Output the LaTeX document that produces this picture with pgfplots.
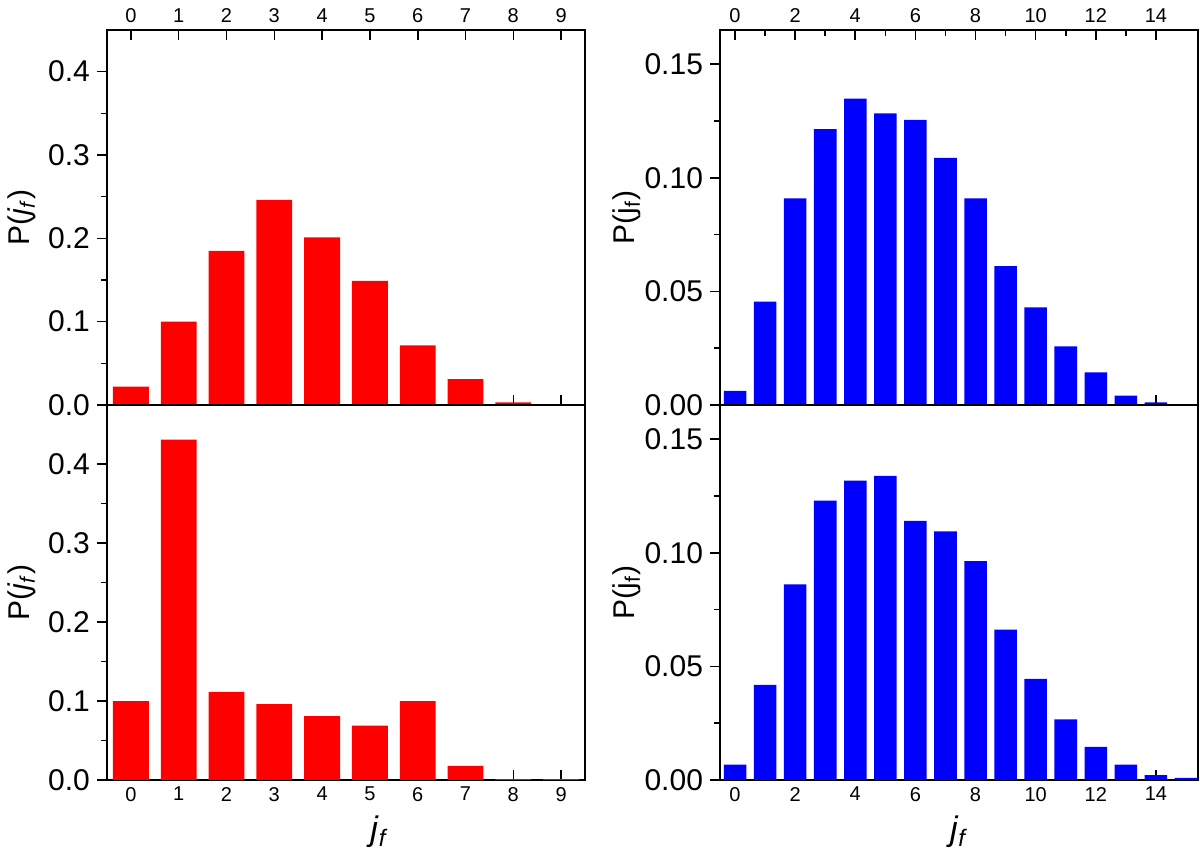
\documentclass[border=0pt]{standalone}
\usepackage{fontspec}
\setmainfont{Liberation Sans}
\usepackage{pgfplots}
\pgfplotsset{compat=1.18}
\pgfplotsset{
  myaxis/.style={
    scale only axis, width=239pt, height=187.5pt,
    anchor=south west,
    axis line style={line width=0.8pt},
    tick style={line width=0.8pt, black},
    ybar, bar width=0.75,
    ymin=0,
    /pgf/number format/assume math mode=true,
    yticklabel style={font=\fontsize{15}{18}\selectfont},
    xticklabel style={font=\fontsize{10}{12}\selectfont},
    ylabel style={font=\fontsize{15}{18}\selectfont, anchor=center},
    xlabel style={font=\fontsize{17}{20}\selectfont, anchor=center},
    ytick pos=left,
    ytick align=outside,
    xtick align=inside,
    major tick length=5pt, minor tick length=3pt,
    minor y tick num=1,
  }
}
\begin{document}
\begin{tikzpicture}
\useasboundingbox (0,0) rectangle (600pt,427pt);
% top left
\begin{axis}[myaxis, at={(53.5pt,224.5pt)},
  xmin=-0.5, xmax=9.5, ymax=0.45,
  xtick={0,1,2,3,4,5,6,7,8,9}, ytick={0,0.1,0.2,0.3,0.4},
  xtick pos=both, xticklabel pos=right,
  yticklabel style={/pgf/number format/.cd, fixed, fixed zerofill, precision=1},
  ylabel={P(\textit{j}\textsubscript{\textit{f}})},
  ylabel style={at={(axis description cs:-0.178,0.5)}}]
\addplot[fill=red, draw=none] coordinates {
 (0,0.022) (1,0.100) (2,0.185) (3,0.246) (4,0.201) (5,0.149) (6,0.0715) (7,0.031) (8,0.003) (9,0.0)};
\end{axis}
% bottom left
\begin{axis}[myaxis, at={(53.5pt,37pt)},
  xmin=-0.5, xmax=9.5, ymax=0.475,
  xtick={0,1,2,3,4,5,6,7,8,9}, ytick={0,0.1,0.2,0.3,0.4},
  xtick pos=left, xticklabel pos=left,
  yticklabel style={/pgf/number format/.cd, fixed, fixed zerofill, precision=1},
  ylabel={P(\textit{j}\textsubscript{\textit{f}})},
  ylabel style={at={(axis description cs:-0.178,0.5)}},
  xlabel={\textit{j}\textsubscript{\textit{f}}},
  xlabel style={at={(axis description cs:0.57,-0.139)}}]
\addplot[fill=red, draw=none] coordinates {
 (0,0.100) (1,0.431) (2,0.1115) (3,0.096) (4,0.081) (5,0.069) (6,0.100) (7,0.018) (8,0.001) (9,0.001)};
\end{axis}
% top right
\begin{axis}[myaxis, at={(360pt,224.5pt)},
  xmin=-0.5, xmax=15.4, ymax=0.165,
  xtick={0,2,4,6,8,10,12,14}, minor x tick num=1, ytick={0,0.05,0.1,0.15},
  xtick pos=both, xticklabel pos=right,
  yticklabel style={/pgf/number format/.cd, fixed, fixed zerofill, precision=2},
  ylabel={P(j\textsubscript{f})},
  ylabel style={at={(axis description cs:-0.195,0.5)}}]
\addplot[fill=blue, draw=none] coordinates {
 (0,0.0062) (1,0.0455) (2,0.0909) (3,0.1214) (4,0.1348) (5,0.1283) (6,0.1255) (7,0.1087)
 (8,0.0909) (9,0.0611) (10,0.043) (11,0.0258) (12,0.0144) (13,0.0041) (14,0.0012) (15,0.0)};
\end{axis}
% bottom right
\begin{axis}[myaxis, at={(360pt,37pt)},
  xmin=-0.5, xmax=15.4, ymax=0.165,
  xtick={0,2,4,6,8,10,12,14}, minor x tick num=1, ytick={0,0.05,0.1,0.15},
  xtick pos=left, xticklabel pos=left,
  yticklabel style={/pgf/number format/.cd, fixed, fixed zerofill, precision=2},
  ylabel={P(j\textsubscript{f})},
  ylabel style={at={(axis description cs:-0.195,0.5)}},
  xlabel={\textit{j}\textsubscript{\textit{f}}},
  xlabel style={at={(axis description cs:0.5,-0.139)}}]
\addplot[fill=blue, draw=none] coordinates {
 (0,0.0068) (1,0.0419) (2,0.0861) (3,0.1229) (4,0.1317) (5,0.1338) (6,0.114) (7,0.1094)
 (8,0.0963) (9,0.0662) (10,0.0445) (11,0.0267) (12,0.0146) (13,0.0068) (14,0.0021) (15,0.0009)};
\end{axis}
\end{tikzpicture}
\end{document}
